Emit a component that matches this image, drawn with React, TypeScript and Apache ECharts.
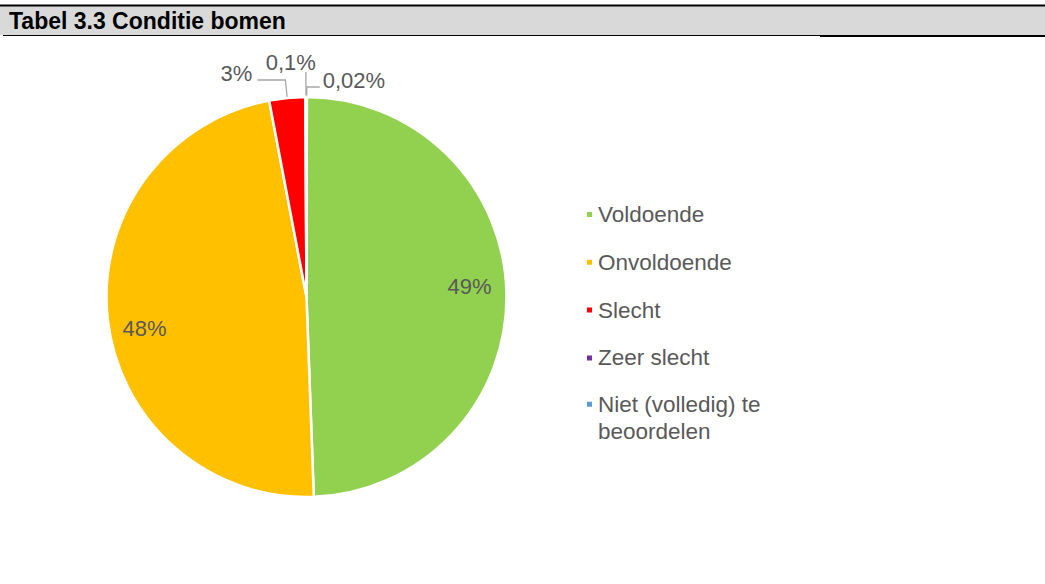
import React, { useEffect, useRef } from 'react';
import * as echarts from 'echarts';

const categories = ['Voldoende', 'Onvoldoende', 'Slecht', 'Zeer slecht', 'Niet (volledig) te beoordelen'];
const values = [49.4, 47.6, 2.9, 0.1, 0.02];
const valueLabels = ['49%', '48%', '3%', '0,1%', '0,02%'];
const sliceColors = ['#92D050', '#FFC000', '#FF0000', '#7030A0', '#5B9BD5'];
const titleText = 'Tabel 3.3 Conditie bomen';

const FONT = '"Liberation Sans", Arial, sans-serif';
const TEXT_COLOR = '#595959';

// shift a label up (raise > 0) or down (raise < 0) by half a line
function shifted(text: string, raise: number) {
  if (raise > 0) return { formatter: text + '\n ', lineHeight: raise * 2 };
  if (raise < 0) return { formatter: ' \n' + text, lineHeight: -raise * 2 };
  return { formatter: text };
}

export default function App() {
  const ref = useRef<HTMLDivElement>(null);

  useEffect(() => {
    const chart = echarts.init(ref.current!, null, { renderer: 'svg' });

    const outside: Record<number, any> = {
      2: { length: 18, length2: 28, raise: 7, dist: 5 },
      3: { length: 25, length2: 0, raise: 10, dist: -10 },
      4: { length: 10, length2: 13, raise: 7, dist: 3 },
    };
    const inside: Record<number, any> = {
      0: { raise: 8 },
      1: { raise: -13 },
    };

    const mainData = categories.map((name, i) => {
      const o = outside[i];
      return {
        name,
        value: values[i],
        itemStyle: { color: sliceColors[i] },
        label: o
          ? {
              show: true,
              position: 'outside',
              ...shifted(valueLabels[i], o.raise),
              distanceToLabelLine: o.dist,
            }
          : { show: false },
        labelLine: o ? { show: true, length: o.length, length2: o.length2 } : { show: false },
      };
    });

    const overlayData = categories.map((name, i) => {
      const o = inside[i];
      return {
        name,
        value: values[i],
        label: o
          ? { show: true, position: 'inside', ...shifted(valueLabels[i], o.raise) }
          : { show: false },
        labelLine: { show: false },
      };
    });

    const labelText = { fontFamily: FONT, fontSize: 22, color: TEXT_COLOR };
    const legendText = { fontFamily: FONT, fontSize: 22.5, color: TEXT_COLOR };

    chart.setOption({
      animation: false,
      backgroundColor: '#ffffff',
      legend: [
        {
          data: categories.slice(0, 4),
          orient: 'vertical',
          left: 585,
          top: 203,
          padding: 0,
          itemWidth: 7,
          itemHeight: 7,
          itemGap: 24.8,
          icon: 'rect',
          selectedMode: false,
          textStyle: { ...legendText, lineHeight: 22 },
        },
        {
          data: categories.slice(4),
          orient: 'vertical',
          left: 585,
          top: 363,
          padding: 0,
          itemWidth: 7,
          itemHeight: 7,
          icon: 'rect',
          selectedMode: false,
          formatter: () => '\nNiet (volledig) te\nbeoordelen',
          textStyle: { ...legendText, lineHeight: 27.5 },
        },
      ],
      graphic: [
        { type: 'rect', shape: { x: 0, y: 6, width: 1045, height: 29 }, style: { fill: '#D9D9D9' }, silent: true },
        { type: 'line', shape: { x1: 0, y1: 5.5, x2: 1045, y2: 5.5 }, style: { stroke: '#000', lineWidth: 2 }, silent: true },
        { type: 'line', shape: { x1: 3, y1: 35.5, x2: 820, y2: 35.5 }, style: { stroke: '#000', lineWidth: 1.2 }, silent: true },
        { type: 'line', shape: { x1: 820, y1: 36, x2: 1045, y2: 36 }, style: { stroke: '#000', lineWidth: 2 }, silent: true },
        {
          type: 'text',
          x: 9,
          y: 20.5,
          style: {
            text: titleText,
            fontFamily: FONT,
            fontWeight: 'bold',
            fontSize: 23,
            fill: '#000',
            verticalAlign: 'middle',
          },
          silent: true,
        },
      ],
      series: [
        {
          type: 'pie',
          center: [306.5, 297],
          radius: 200,
          startAngle: 89.9,
          clockwise: true,
          avoidLabelOverlap: false,
          emphasis: { disabled: true },
          itemStyle: { borderColor: '#ffffff', borderWidth: 2.5 },
          label: { ...labelText },
          labelLine: { lineStyle: { color: '#A6A6A6', width: 1.3 }, smooth: false },
          data: mainData,
        },
        {
          type: 'pie',
          center: [306.5, 297],
          radius: [120, 200],
          startAngle: 89.9,
          clockwise: true,
          silent: true,
          avoidLabelOverlap: false,
          emphasis: { disabled: true },
          itemStyle: { color: 'rgba(0,0,0,0)', borderWidth: 0 },
          label: { ...labelText },
          data: overlayData,
        },
      ],
    });

    return () => chart.dispose();
  }, []);

  return (
    <div
      ref={ref}
      style={{ position: 'absolute', left: 0, top: 0, width: 1045, height: 584 }}
    />
  );
}
